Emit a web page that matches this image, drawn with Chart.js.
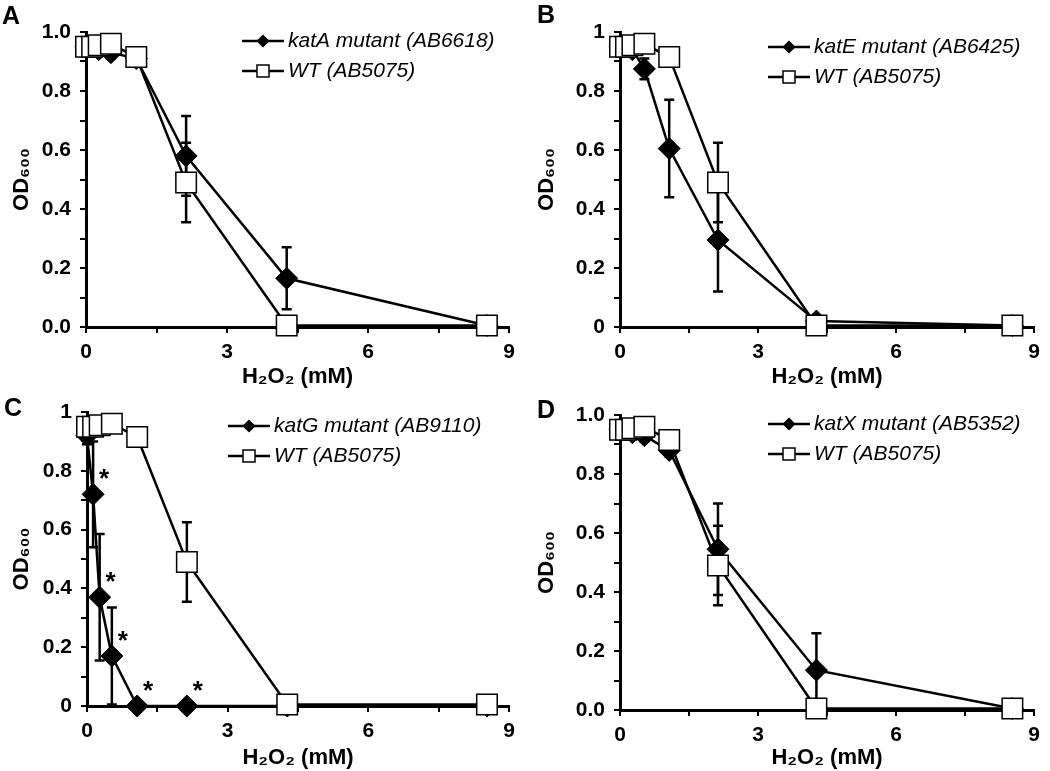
<!DOCTYPE html>
<html>
<head>
<meta charset="utf-8">
<script src="https://cdn.jsdelivr.net/npm/chart.js@4.4.1/dist/chart.umd.min.js"></script>
<style>
  body { margin: 0; background: #fff; width: 1050px; height: 771px; position: relative; overflow: hidden; }
  canvas { position: absolute; }
</style>
</head>
<body>
<canvas id="chartA" width="525" height="390" style="left:0;top:0"></canvas>
<canvas id="chartB" width="525" height="390" style="left:525px;top:0"></canvas>
<canvas id="chartC" width="525" height="381" style="left:0;top:390px"></canvas>
<canvas id="chartD" width="525" height="381" style="left:525px;top:390px"></canvas>
<script>
// H2O2 concentrations (mM)
const conc = [0, 0.13, 0.27, 0.53, 1.07, 2.13, 4.27, 8.53];

// wild type, same in every panel
const wtOD  = [0.95, 0.95, 0.955, 0.96, 0.915, 0.49, 0.005, 0.005];
const wtErr = [0.03, 0.02, 0.02, 0.02, 0.01, 0.135, 0, 0];

const katAOD  = [0.95, 0.95, 0.94, 0.93, 0.91, 0.58, 0.165, 0.005];
const katAErr = [0.03, 0.02, 0.02, 0.02, 0.02, 0.135, 0.105, 0];

const katEOD  = [0.95, 0.95, 0.94, 0.875, 0.605, 0.295, 0.02, 0.005];
const katEErr = [0.03, 0.02, 0.02, 0.035, 0.165, 0.175, 0.01, 0];

const katGOD  = [0.92, 0.72, 0.37, 0.17, 0, 0, 0, 0];
const katGErr = [0.03, 0.18, 0.215, 0.165, 0, 0, 0, 0];
const katGStar = [false, true, true, true, true, true, false, false];

const katXOD  = [0.95, 0.95, 0.94, 0.93, 0.88, 0.545, 0.135, 0.005];
const katXErr = [0.03, 0.02, 0.02, 0.02, 0.02, 0.155, 0.125, 0];

const yLabelsDec = ['0.0', '0.2', '0.4', '0.6', '0.8', '1.0'];
const yLabelsInt = ['0', '0.2', '0.4', '0.6', '0.8', '1'];
const xLabels = ['0', '3', '6', '9'];

const FONT = "'Liberation Sans', Arial, sans-serif";

// vertical error bars, under the markers
const errorBars = {
    id: 'errorBars',
    beforeDatasetsDraw(chart) {
        const ctx = chart.ctx, xs = chart.scales.x, ys = chart.scales.y;
        ctx.save();
        ctx.strokeStyle = '#000';
        ctx.lineWidth = 2.5;
        chart.data.datasets.forEach(ds => {
            ds.data.forEach((p, i) => {
                const e = ds.err[i];
                if (!e) return;
                const px = xs.getPixelForValue(p.x);
                const top = ys.getPixelForValue(p.y + e);
                const bot = ys.getPixelForValue(Math.max(0, p.y - e));
                ctx.beginPath();
                ctx.moveTo(px, top); ctx.lineTo(px, bot);
                ctx.moveTo(px - 5, top); ctx.lineTo(px + 5, top);
                ctx.moveTo(px - 5, bot); ctx.lineTo(px + 5, bot);
                ctx.stroke();
            });
        });
        ctx.restore();
    }
};

// panel letter, legend with line + marker, significance stars
const decor = {
    id: 'decor',
    afterDraw(chart, args, opts) {
        const ctx = chart.ctx, area = chart.chartArea;
        ctx.save();
        ctx.fillStyle = '#000';
        ctx.font = 'bold 25px ' + FONT;
        ctx.textBaseline = 'top';
        ctx.fillText(opts.letter, opts.letterX, opts.letterY);

        const x0 = area.left + opts.legendDx;
        chart.data.datasets.forEach((ds, i) => {
            const y = area.top + opts.legendDy + i * 30;
            ctx.strokeStyle = '#000';
            ctx.lineWidth = 2.5;
            ctx.beginPath();
            ctx.moveTo(x0, y); ctx.lineTo(x0 + 42, y);
            ctx.stroke();
            ctx.lineWidth = 1.5;
            ctx.fillStyle = ds.pointBackgroundColor;
            Chart.helpers.drawPoint(ctx, {
                pointStyle: ds.pointStyle,
                radius: ds.pointStyle === 'rect' ? 8.5 : 5.5,
                borderWidth: 1.5
            }, x0 + 21, y);
            ctx.fillStyle = '#000';
            ctx.font = 'italic 21px ' + FONT;
            ctx.textBaseline = 'middle';
            ctx.fillText(ds.label, x0 + 46, y);
        });

        if (opts.stars) {
            const xs = chart.scales.x, ys = chart.scales.y;
            const ds = chart.data.datasets[0];
            ctx.font = 'bold 26px ' + FONT;
            ctx.textAlign = 'center';
            ctx.textBaseline = 'middle';
            ds.data.forEach((p, i) => {
                if (!opts.stars[i]) return;
                ctx.fillText('*', xs.getPixelForValue(p.x) + 11, ys.getPixelForValue(p.y) - 14);
            });
        }
        ctx.restore();
    }
};

function drawPanel(id, letter, mutantLabel, mutantOD, mutantErr, yLabels, box, stars) {
    const tickFont = { family: FONT, size: 21, weight: 'bold' };
    const titleFont = { family: FONT, size: 22, weight: 'bold' };

    new Chart(document.getElementById(id), {
        type: 'scatter',
        data: {
            datasets: [
                {
                    label: mutantLabel,
                    data: conc.map((c, i) => ({ x: c, y: mutantOD[i] })),
                    err: mutantErr,
                    showLine: true,
                    borderColor: '#000',
                    borderWidth: 2.5,
                    pointStyle: 'rectRot',
                    pointRadius: 11,
                    pointBackgroundColor: '#000',
                    pointBorderColor: '#000',
                    pointBorderWidth: 1,
                    order: 1,
                    clip: false
                },
                {
                    label: 'WT (AB5075)',
                    data: conc.map((c, i) => ({ x: c, y: wtOD[i] })),
                    err: wtErr,
                    showLine: true,
                    borderColor: '#000',
                    borderWidth: 2.5,
                    pointStyle: 'rect',
                    pointRadius: 14.5,
                    pointBackgroundColor: '#fff',
                    pointBorderColor: '#000',
                    pointBorderWidth: 1.5,
                    order: 0,
                    clip: false
                }
            ]
        },
        options: {
            responsive: false,
            animation: false,
            events: [],
            layout: { padding: { left: 0, right: box.right, top: box.top, bottom: 0 } },
            plugins: {
                legend: { display: false },
                tooltip: { enabled: false },
                decor: {
                    letter: letter, letterX: box.letterX, letterY: box.letterY,
                    legendDx: box.legendDx, legendDy: box.legendDy, stars: stars
                }
            },
            scales: {
                x: {
                    type: 'linear',
                    min: 0, max: 9,
                    afterFit: s => { s.height = box.xHeight; },
                    ticks: {
                        stepSize: 1.5, autoSkip: false, maxRotation: 0,
                        color: '#000', font: tickFont, padding: 7,
                        callback: (v, i) => i % 2 === 0 ? xLabels[i / 2] : ''
                    },
                    grid: { drawOnChartArea: false, tickLength: 6, color: '#000', lineWidth: 2 },
                    border: { color: '#000', width: 3 },
                    title: { display: true, text: 'H₂O₂ (mM)', color: '#000', font: titleFont, padding: { top: 0, bottom: 0 } }
                },
                y: {
                    min: 0, max: 1,
                    afterFit: s => { s.width = box.yWidth; },
                    ticks: {
                        stepSize: 0.1, autoSkip: false,
                        color: '#000', font: tickFont, padding: 9,
                        callback: (v, i) => i % 2 === 0 ? yLabels[i / 2] : ''
                    },
                    grid: { drawOnChartArea: false, tickLength: 6, color: '#000', lineWidth: 2 },
                    border: { color: '#000', width: 3 },
                    title: { display: true, text: 'OD₆₀₀', color: '#000', font: titleFont, padding: { top: 9, bottom: 0 } }
                }
            }
        },
        plugins: [errorBars, decor]
    });
}

drawPanel('chartA', 'A', 'katA mutant (AB6618)', katAOD, katAErr, yLabelsDec,
    { yWidth: 86, xHeight: 63, top: 32, right: 13, letterX: 2, letterY: 5, legendDx: 156, legendDy: 9 }, null);
drawPanel('chartB', 'B', 'katE mutant (AB6425)', katEOD, katEErr, yLabelsInt,
    { yWidth: 95, xHeight: 63, top: 32, right: 5, letterX: 12, letterY: 4, legendDx: 148, legendDy: 15 }, null);
drawPanel('chartC', 'C', 'katG mutant (AB9110)', katGOD, katGErr, yLabelsInt,
    { yWidth: 87, xHeight: 65, top: 22, right: 12, letterX: 4, letterY: 7, legendDx: 141, legendDy: 14 }, katGStar);
drawPanel('chartD', 'D', 'katX mutant (AB5352)', katXOD, katXErr, yLabelsDec,
    { yWidth: 95, xHeight: 61, top: 25, right: 8, letterX: 12, letterY: 9, legendDx: 148, legendDy: 9 }, null);
</script>
</body>
</html>
